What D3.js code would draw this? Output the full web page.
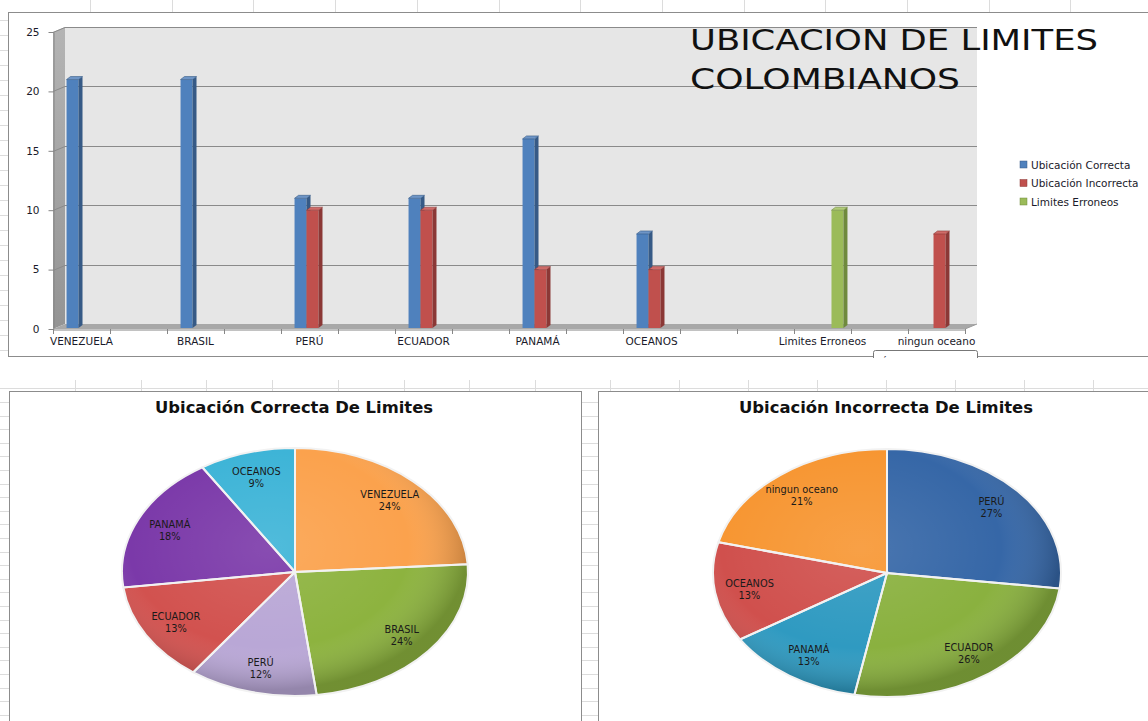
<!DOCTYPE html>
<html>
<head>
<meta charset="utf-8">
<script src="https://cdn.jsdelivr.net/npm/d3@7"></script>
<style>
  body { margin: 0; background: #fff; overflow: hidden; }
  text { font-family: "DejaVu Sans", sans-serif; }
</style>
</head>
<body>
<script>
// ---- data ----
var categories = ["VENEZUELA", "", "BRASIL", "", "PERÚ", "", "ECUADOR", "", "PANAMÁ", "", "OCEANOS", "", "", "Limites Erroneos", "", "ningun oceano"];
var seriesNames = ["Ubicación Correcta", "Ubicación Incorrecta", "Limites Erroneos"];
var correcta   = [21, null, 21, null, 11, null, 11, null, 16, null, 8, null, null, null, null, null];
var incorrecta = [null, null, null, null, 10, null, 10, null, 5, null, 5, null, null, null, null, 8];
var erroneos   = [null, null, null, null, null, null, null, null, null, null, null, null, null, 10, null, null];
var yTicks = [0, 5, 10, 15, 20, 25];

var pieCorrectLabels = ["VENEZUELA", "BRASIL", "PERÚ", "ECUADOR", "PANAMÁ", "OCEANOS"];
var pieCorrectPct = [24, 24, 12, 13, 18, 9];
var pieIncorrectLabels = ["PERÚ", "ECUADOR", "PANAMÁ", "OCEANOS", "ningun oceano"];
var pieIncorrectPct = [27, 26, 13, 13, 21];

(function() {

    var width = 1148, height = 721;

    var svg = d3.select("body")
        .append("svg")
        .attr("width", width)
        .attr("height", height);

    var defs = svg.append("defs");

    // faint spreadsheet cells behind the charts
    var sheet = svg.append("g")
        .attr("stroke", "#dcdcdc")
        .attr("stroke-width", 1);
    d3.range(90, width, 81.7).forEach(function(cx) {
        var px = Math.round(cx) + 0.5;
        sheet.append("line").attr("x1", px).attr("x2", px).attr("y1", 0).attr("y2", 12);
    });
    d3.range(20, 356, 15).forEach(function(cy) {
        var py = Math.round(cy) + 0.5;
        sheet.append("line").attr("x1", 0).attr("x2", 8).attr("y1", py).attr("y2", py);
    });
    sheet.append("line").attr("x1", 0).attr("x2", width).attr("y1", 388.5).attr("y2", 388.5);
    d3.range(75, 580, 65.7).concat(d3.range(610, width, 69)).forEach(function(cx) {
        var px = Math.round(cx) + 0.5;
        sheet.append("line").attr("x1", px).attr("x2", px).attr("y1", 380).attr("y2", 392);
    });
    d3.range(402, height, 13.6).forEach(function(cy) {
        var py = Math.round(cy) + 0.5;
        sheet.append("line").attr("x1", 0).attr("x2", 9).attr("y1", py).attr("y2", py);
        sheet.append("line").attr("x1", 582).attr("x2", 598).attr("y1", py).attr("y2", py);
    });

    // =================== 3D column chart ===================
    var top = svg.append("g");

    top.append("rect")
        .attr("x", 8.5).attr("y", 12.5)
        .attr("width", width).attr("height", 344)
        .attr("fill", "#fff")
        .attr("stroke", "#8c8c8c");

    var x = d3.scaleBand()
        .domain(d3.range(categories.length))
        .range([53, 965]);

    var xs = d3.scaleBand()
        .domain(d3.range(seriesNames.length))
        .range([x.bandwidth() * 0.185, x.bandwidth() * 0.815]);

    var y = d3.scaleLinear()
        .domain([0, 25])
        .range([329, 32]);

    var dx = 12, dy = -5;       // depth of the walls
    var x0 = x.range()[0], x1 = x.range()[1];

    var sideGrad = defs.append("linearGradient").attr("id", "side").attr("x1", 0).attr("x2", 0).attr("y1", 0).attr("y2", 1);
    sideGrad.append("stop").attr("offset", 0).attr("stop-color", "#b4b4b4");
    sideGrad.append("stop").attr("offset", 1).attr("stop-color", "#949494");

    // back wall
    top.append("rect")
        .attr("x", x0 + dx).attr("y", y(25) + dy)
        .attr("width", x1 - x0).attr("height", y(0) - y(25))
        .attr("fill", "#e6e6e6");
    top.append("line")
        .attr("x1", x0 + dx).attr("x2", x1 + dx)
        .attr("y1", y(25) + dy + 0.5).attr("y2", y(25) + dy + 0.5)
        .attr("stroke", "#9a9a9a");

    // side wall
    top.append("polygon")
        .attr("points", [[x0, y(0)], [x0, y(25)], [x0 + dx, y(25) + dy], [x0 + dx, y(0) + dy]].join(" "))
        .attr("fill", "url(#side)");

    // floor
    top.append("polygon")
        .attr("points", [[x0, y(0)], [x1, y(0)], [x1 + dx, y(0) + dy], [x0 + dx, y(0) + dy]].join(" "))
        .attr("fill", "#a8a8a8");

    // gridlines
    yTicks.filter(function(t) { return t > 0; }).forEach(function(t) {
        var yy = Math.round(y(t)) + 0.5;
        top.append("line")
            .attr("x1", x0 + dx).attr("x2", x1 + dx)
            .attr("y1", yy + dy).attr("y2", yy + dy)
            .attr("stroke", "#8a8a8a");
        top.append("line")
            .attr("x1", x0).attr("x2", x0 + dx)
            .attr("y1", yy).attr("y2", yy + dy)
            .attr("stroke", "#8a8a8a");
    });

    // y axis
    var yAxis = top.append("g")
        .attr("transform", "translate(" + (x0 + 0.5) + ",0)")
        .call(d3.axisLeft(y).tickValues(yTicks).tickSize(5).tickSizeOuter(0).tickPadding(9));
    yAxis.select(".domain").attr("stroke", "#868686");
    yAxis.selectAll(".tick line").attr("stroke", "#868686");
    yAxis.selectAll("text")
        .attr("fill", "#1a1a2a")
        .style("font-size", "10.5px");

    // x axis: labels centred on the bands, ticks at band edges
    var xAxis = top.append("g")
        .attr("transform", "translate(0," + (y(0) + 0.5) + ")")
        .call(d3.axisBottom(x).tickSize(0).tickPadding(8).tickFormat(function(i) { return categories[i]; }));
    xAxis.select(".domain").attr("stroke", "#868686");
    xAxis.selectAll("text")
        .attr("fill", "#1a1a2a")
        .style("font-size", "10.5px");
    x.domain().concat([categories.length]).forEach(function(i) {
        var px = Math.round(i < categories.length ? x(i) : x1) + 0.5;
        top.append("line")
            .attr("x1", px).attr("x2", px)
            .attr("y1", y(0)).attr("y2", y(0) + 5)
            .attr("stroke", "#868686");
    });
    top.append("line")
        .attr("x1", x1).attr("x2", x1 + dx)
        .attr("y1", y(0)).attr("y2", y(0) + dy)
        .attr("stroke", "#9a9a9a");

    // columns
    var seriesValues = [correcta, incorrecta, erroneos];
    var faces = [
        { front: "#4f81bd", side: "#365a86", top: "#6e95c6" },
        { front: "#c0504d", side: "#8b3836", top: "#d06c69" },
        { front: "#9bbb59", side: "#6f8a3d", top: "#b2cc7a" }
    ];
    var bdx = 4, bdy = -3;

    var bars = top.append("g");
    categories.forEach(function(c, i) {
        seriesValues.forEach(function(vals, s) {
            var v = vals[i];
            if (v == null) return;
            var bx = x(i) + xs(s) + 3,
                bw = xs.bandwidth(),
                by = y(v),
                base = y(0) - 1;
            bars.append("rect")
                .attr("x", bx).attr("y", by)
                .attr("width", bw).attr("height", base - by)
                .attr("fill", faces[s].front);
            bars.append("polygon")
                .attr("points", [[bx + bw, by], [bx + bw + bdx, by + bdy], [bx + bw + bdx, base + bdy], [bx + bw, base]].join(" "))
                .attr("fill", faces[s].side);
            bars.append("polygon")
                .attr("points", [[bx, by], [bx + bdx, by + bdy], [bx + bw + bdx, by + bdy], [bx + bw, by]].join(" "))
                .attr("fill", faces[s].top)
                .attr("stroke", faces[s].side)
                .attr("stroke-width", 0.6);
        });
    });

    // title
    top.append("text")
        .attr("x", 690).attr("y", 50)
        .attr("textLength", 408).attr("lengthAdjust", "spacingAndGlyphs")
        .style("font-size", "28px")
        .attr("fill", "#111")
        .text("UBICACION DE LIMITES");
    top.append("text")
        .attr("x", 690).attr("y", 89)
        .attr("textLength", 270).attr("lengthAdjust", "spacingAndGlyphs")
        .style("font-size", "28px")
        .attr("fill", "#111")
        .text("COLOMBIANOS");

    // legend
    var legend = top.append("g")
        .attr("transform", "translate(1020,161)");
    seriesNames.forEach(function(name, s) {
        var row = legend.append("g").attr("transform", "translate(0," + (s * 18.5) + ")");
        row.append("rect")
            .attr("width", 7).attr("height", 7)
            .attr("fill", faces[s].front)
            .attr("stroke", faces[s].side)
            .attr("stroke-width", 0.5);
        row.append("text")
            .attr("x", 11).attr("y", 4)
            .attr("dy", "0.35em")
            .attr("fill", "#1a1a2a")
            .style("font-size", "10.5px")
            .text(name);
    });

    // plot-area tooltip sticking out under the frame
    defs.append("clipPath").attr("id", "tipclip")
        .append("rect").attr("x", 860).attr("y", 340).attr("width", 140).attr("height", 18);
    var tip = top.append("g").attr("clip-path", "url(#tipclip)");
    tip.append("rect")
        .attr("x", 873.5).attr("y", 350.5)
        .attr("width", 104).attr("height", 16)
        .attr("rx", 2)
        .attr("fill", "#fff")
        .attr("stroke", "#777");
    tip.append("text")
        .attr("x", 881).attr("y", 366)
        .style("font-size", "11px")
        .attr("fill", "#222")
        .text("Área de trazado");

    // =================== pies ===================
    function drawPie(cx, cy, rx, ry, frameX, titleText, titleWidth, labels, values, colors) {
        var g = svg.append("g");

        g.append("rect")
            .attr("x", frameX + 0.5).attr("y", 391.5)
            .attr("width", 572).attr("height", 400)
            .attr("fill", "#fff")
            .attr("stroke", "#8c8c8c");

        g.append("text")
            .attr("x", cx - 1).attr("y", 413)
            .attr("text-anchor", "middle")
            .attr("textLength", titleWidth).attr("lengthAdjust", "spacingAndGlyphs")
            .style("font-size", "16px")
            .style("font-weight", "bold")
            .attr("fill", "#111")
            .text(titleText);

        var pie = d3.pie().sort(null);
        var arcs = pie(values);
        var arc = d3.arc().innerRadius(0).outerRadius(rx);
        var labelArc = d3.arc().innerRadius(rx * 0.8).outerRadius(rx * 0.8);

        // one soft bevel shading for the whole pie
        var id = "shade" + frameX;
        var shade = defs.append("radialGradient").attr("id", id)
            .attr("gradientUnits", "userSpaceOnUse")
            .attr("cx", -rx * 0.15).attr("cy", -rx * 0.2).attr("r", rx * 1.15);
        shade.append("stop").attr("offset", 0).attr("stop-color", "#fff").attr("stop-opacity", 0.1);
        shade.append("stop").attr("offset", 0.7).attr("stop-color", "#fff").attr("stop-opacity", 0);
        shade.append("stop").attr("offset", 1).attr("stop-color", "#000").attr("stop-opacity", 0.2);

        var slices = g.append("g")
            .attr("transform", "translate(" + cx + "," + cy + ") scale(1," + (ry / rx) + ")");

        slices.selectAll("path.slice")
            .data(arcs)
            .enter().append("path")
            .attr("class", "slice")
            .attr("d", arc)
            .attr("fill", function(d, i) { return colors[i]; });

        slices.selectAll("path.shade")
            .data(arcs)
            .enter().append("path")
            .attr("class", "shade")
            .attr("d", arc)
            .attr("fill", "url(#" + id + ")")
            .attr("stroke", "#f2f2f2")
            .attr("stroke-width", 2)
            .attr("vector-effect", "non-scaling-stroke");

        var lab = g.selectAll("g.lab")
            .data(arcs)
            .enter().append("g")
            .attr("class", "lab")
            .attr("transform", function(d) {
                var c = labelArc.centroid(d);
                return "translate(" + (cx + c[0]) + "," + (cy + c[1] * ry / rx) + ")";
            });
        lab.append("text")
            .attr("text-anchor", "middle")
            .attr("y", -2)
            .style("font-size", "9.8px")
            .attr("fill", "#1a1a1a")
            .text(function(d, i) { return labels[i]; });
        lab.append("text")
            .attr("text-anchor", "middle")
            .attr("y", 10)
            .style("font-size", "9.8px")
            .attr("fill", "#1a1a1a")
            .text(function(d) { return d.data + "%"; });
    }

    drawPie(295, 572, 173, 124, 9, "Ubicación Correcta De Limites", 278,
        pieCorrectLabels, pieCorrectPct,
        ["#fba24d", "#8db33f", "#b9a7d6", "#d2524f", "#7b39a9", "#3db4d7"]);

    drawPie(887, 573, 174, 124, 598, "Ubicación Incorrecta De Limites", 294,
        pieIncorrectLabels, pieIncorrectPct,
        ["#3667a7", "#8ab13f", "#2f9ac1", "#d0504d", "#f79632"]);

})();
</script>
</body>
</html>
